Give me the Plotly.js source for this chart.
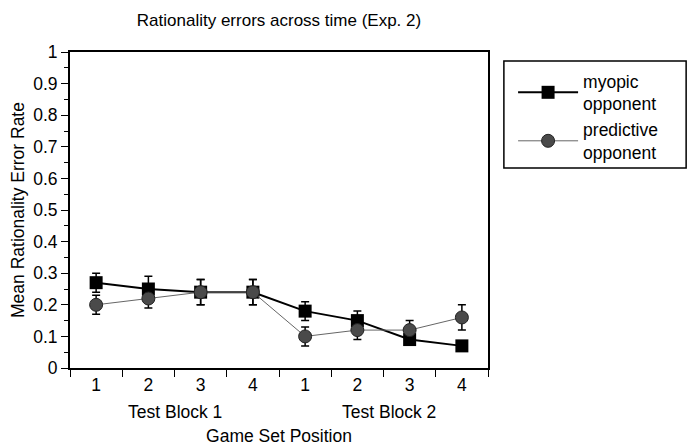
<!DOCTYPE html>
<html>
<head>
<meta charset="utf-8">
<script src="https://cdn.plot.ly/plotly-3.0.1.min.js"></script>
<style>
  html, body { margin: 0; padding: 0; background: #fff; }
  #chart { width: 688px; height: 446px; }
</style>
</head>
<body>
<div id="chart"></div>
<script>
// Game set positions within the two test blocks
const positions = [1, 2, 3, 4, 5, 6, 7, 8];
const positionLabels = ['1', '2', '3', '4', '1', '2', '3', '4'];
const blockLabels = ['Test Block 1', 'Test Block 2'];

// Mean rationality error rate and standard error per opponent type
const myopicMean = [0.27, 0.25, 0.24, 0.24, 0.18, 0.15, 0.09, 0.07];
const myopicErr  = [0.03, 0.04, 0.04, 0.04, 0.03, 0.03, 0.01, 0.01];
const predictiveMean = [0.20, 0.22, 0.24, 0.24, 0.10, 0.12, 0.12, 0.16];
const predictiveErr  = [0.03, 0.03, 0.04, 0.04, 0.03, 0.03, 0.03, 0.04];

const font = 'Liberation Sans, Arial, sans-serif';
const fs = 17.5;

const traces = [
  {
    x: positions, y: myopicMean, name: 'myopic<br>opponent',
    type: 'scatter', mode: 'lines+markers',
    line: { color: '#000', width: 2 },
    marker: { symbol: 'square', size: 13, color: '#000' },
    error_y: { type: 'data', array: myopicErr, visible: true, color: '#000', thickness: 1.5, width: 4 }
  },
  {
    x: positions, y: predictiveMean, name: 'predictive<br>opponent',
    type: 'scatter', mode: 'lines+markers',
    line: { color: '#666', width: 1 },
    marker: { symbol: 'circle', size: 13, color: '#4a4a4a', line: { color: '#222', width: 1 } },
    error_y: { type: 'data', array: predictiveErr, visible: true, color: '#000', thickness: 1.5, width: 4 }
  }
];

const layout = {
  width: 688, height: 446,
  margin: { l: 70, r: 200, t: 52, b: 78 },
  paper_bgcolor: '#fff', plot_bgcolor: '#fff',
  font: { family: font, size: fs, color: '#000' },
  showlegend: true,
  title: {
    text: 'Rationality errors across time (Exp. 2)',
    x: 0.5, xref: 'paper', xanchor: 'center', y: 0.955, yanchor: 'middle',
    font: { family: font, size: 17, color: '#000' }
  },
  xaxis: {
    range: [0.5, 8.5],
    tickvals: positions, ticktext: positionLabels,
    ticks: '', showgrid: false, zeroline: false,
    showline: true, linecolor: '#000', linewidth: 2, mirror: true,
    tickfont: { family: font, size: fs },
    minor: { tick0: 0.5, dtick: 1, ticks: 'outside', ticklen: 7, tickwidth: 1, tickcolor: '#000', showgrid: false },
    title: { text: 'Game Set Position', standoff: 36, font: { family: font, size: fs } }
  },
  yaxis: {
    range: [0, 1], dtick: 0.1, tickformat: '.1~f',
    ticks: 'outside', ticklen: 7, tickwidth: 1, tickcolor: '#000',
    showgrid: false, zeroline: false,
    showline: true, linecolor: '#000', linewidth: 2, mirror: true,
    tickfont: { family: font, size: fs },
    minor: { dtick: 0.05, ticks: 'outside', ticklen: 4, tickwidth: 1, tickcolor: '#000', showgrid: false },
    title: { text: 'Mean Rationality Error Rate', standoff: 4, font: { family: font, size: fs } }
  },
  legend: {
    x: 1.06, xanchor: 'left', y: 0.965, yanchor: 'top',
    borderwidth: 0, bgcolor: 'rgba(0,0,0,0)',
    font: { family: font, size: fs },
    tracegroupgap: 10, itemwidth: 60
  },
  // legend frame, wider than the legend itself
  shapes: [
    { type: 'rect', xref: 'paper', yref: 'paper', x0: 1.038, x1: 1.474, y0: 0.633, y1: 0.9715,
      line: { color: '#000', width: 1.5 }, fillcolor: 'rgba(0,0,0,0)' }
  ],
  annotations: [
    { text: blockLabels[0], x: 2.5, xref: 'x', y: -0.14, yref: 'paper', showarrow: false,
      font: { family: font, size: fs }, xanchor: 'center', yanchor: 'middle' },
    { text: blockLabels[1], x: 6.6, xref: 'x', y: -0.14, yref: 'paper', showarrow: false,
      font: { family: font, size: fs }, xanchor: 'center', yanchor: 'middle' }
  ]
};

Plotly.newPlot('chart', traces, layout, { displayModeBar: false, staticPlot: true });
</script>
</body>
</html>
